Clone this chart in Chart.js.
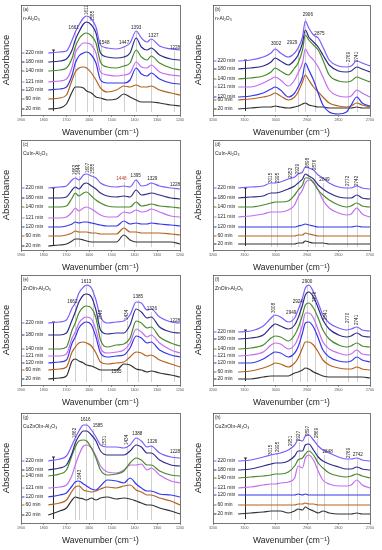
<!DOCTYPE html>
<html>
<head>
<meta charset="utf-8">
<script src="https://cdn.jsdelivr.net/npm/chart.js@4.4.0/dist/chart.umd.min.js"></script>
<style>
  body { margin: 0; background: #fff; width: 382px; height: 550px; position: relative; overflow: hidden; }
  canvas { position: absolute; }
</style>
</head>
<body>
<canvas id="pa"></canvas><canvas id="pb"></canvas>
<canvas id="pc"></canvas><canvas id="pd"></canvas>
<canvas id="pe"></canvas><canvas id="pf"></canvas>
<canvas id="pg"></canvas><canvas id="ph"></canvas>
<script>
// time labels and colours, top curve first
const timeLabels = ["220 min", "180 min", "140 min", "121 min", "120 min", "60 min", "20 min"];
const lineColors = ["#7c5cff", "#2d2d8c", "#4a8a2c", "#c46cf2", "#3636ee", "#b5621e", "#333333"];

// wavenumber grids (cm-1)
const lowWaves = [1780, 1730, 1700, 1675, 1661, 1645, 1625, 1611, 1590, 1570, 1550, 1520, 1480, 1447, 1420, 1393, 1370, 1345, 1327, 1290, 1240, 1200];
const highWaves = [3120, 3080, 3040, 3015, 3002, 2985, 2960, 2940, 2929, 2915, 2906, 2895, 2880, 2865, 2850, 2830, 2800, 2775, 2760, 2742, 2725, 2700];

// (a) n-Al2O3, 1900-1200
const aSpectra = [
  [62, 63, 64, 75, 83, 90, 97, 99, 96, 88, 70, 67, 66, 68, 72, 84, 77, 73, 76, 69, 66, 65],
  [53, 54, 56, 65, 75, 83, 91, 93, 90, 82, 62, 58, 57, 58, 62, 77, 68, 65, 67, 60, 56, 55],
  [44, 45, 47, 57, 68, 76, 81, 82, 79, 72, 53, 48, 47, 49, 52, 65, 58, 55, 59, 52, 47, 45],
  [33, 34, 36, 48, 62, 68, 72, 72, 70, 62, 43, 40, 39, 40, 42, 53, 48, 47, 50, 43, 40, 39],
  [25, 26, 28, 40, 52, 59, 62, 63, 60, 52, 35, 32, 32, 32, 35, 47, 41, 39, 42, 36, 32, 31],
  [16, 17, 20, 35, 43, 47, 48, 47, 42, 35, 27, 23, 25, 29, 28, 30, 28, 28, 29, 25, 22, 20],
  [6, 7, 11, 23, 28, 28, 27, 24, 22, 18, 17, 15, 16, 21, 18, 15, 13, 13, 13, 12, 10, 9],
];
const aPeaks = [1661, 1611, 1585, 1548, 1447, 1393, 1327, 1228];

// (b) n-Al2O3, 3200-2700
const bSpectra = [
  [54, 55, 58, 62, 66, 62, 58, 62, 67, 78, 94, 87, 80, 77, 68, 55, 49, 48, 49, 54, 52, 49],
  [46, 47, 49, 53, 57, 54, 50, 55, 60, 72, 85, 78, 73, 68, 60, 50, 44, 43, 44, 48, 46, 43],
  [36, 37, 39, 43, 47, 44, 40, 47, 52, 65, 80, 75, 70, 65, 55, 40, 34, 33, 34, 38, 36, 33],
  [28, 28, 32, 36, 38, 35, 29, 35, 42, 52, 66, 60, 55, 48, 38, 25, 19, 18, 19, 25, 22, 18],
  [18, 19, 22, 26, 28, 25, 18, 22, 28, 38, 52, 45, 35, 22, 10, 3, 1, 3, 10, 18, 12, 9],
  [15, 16, 18, 20, 22, 19, 15, 18, 23, 33, 40, 35, 28, 23, 18, 12, 9, 8, 9, 12, 10, 8],
  [6, 7, 8, 8, 9, 8, 7, 8, 9, 11, 12, 10, 9, 8, 8, 7, 7, 7, 7, 8, 7, 7],
];
const bPeaks = [3002, 2929, 2906, 2875, 2769, 2741];

// (c) CuIn-Al2O3, 1900-1200
const cSpectra = [
  [62, 63, 64, 70, 72, 70, 75, 76, 74, 72, 67, 64, 63, 64, 63, 70, 64, 65, 67, 64, 62, 61],
  [52, 52, 53, 60, 63, 61, 66, 67, 64, 61, 57, 54, 53, 54, 53, 60, 55, 56, 57, 55, 52, 51],
  [43, 43, 44, 52, 57, 54, 57, 58, 54, 50, 47, 44, 43, 43, 43, 48, 44, 45, 46, 44, 43, 42],
  [32, 32, 33, 38, 42, 39, 42, 43, 41, 38, 35, 33, 33, 38, 37, 40, 38, 39, 41, 38, 34, 33],
  [23, 23, 24, 26, 28, 27, 28, 28, 27, 26, 25, 24, 24, 29, 26, 27, 26, 26, 27, 26, 25, 24],
  [14, 14, 15, 17, 19, 18, 18, 18, 17, 17, 16, 16, 16, 22, 18, 18, 17, 17, 17, 17, 16, 15],
  [4, 5, 6, 9, 11, 11, 10, 9, 8, 8, 8, 8, 8, 15, 10, 8, 8, 8, 8, 8, 8, 6],
];
const cPeaks = [1662, 1644, 1607, 1585, 1448, 1395, 1329, 1228];

// (d) CuIn-Al2O3, 3200-2700
const dSpectra = [
  [62, 63, 64, 67, 67, 68, 71, 73, 76, 78, 83, 82, 80, 75, 72, 67, 63, 62, 62, 64, 62, 61],
  [52, 53, 54, 57, 57, 58, 61, 64, 67, 71, 76, 74, 71, 65, 61, 57, 53, 52, 52, 55, 52, 51],
  [43, 43, 45, 47, 48, 48, 49, 55, 60, 65, 72, 72, 67, 60, 55, 50, 45, 43, 44, 47, 44, 43],
  [33, 34, 36, 38, 38, 38, 40, 45, 53, 60, 67, 70, 68, 60, 50, 42, 37, 35, 36, 42, 36, 33],
  [23, 23, 23, 23, 23, 23, 23, 23, 24, 25, 26, 25, 24, 23, 23, 23, 23, 23, 23, 24, 23, 23],
  [14, 14, 14, 14, 14, 14, 14, 14, 15, 15, 17, 16, 15, 14, 14, 14, 14, 14, 14, 14, 14, 14],
  [6, 6, 6, 6, 6, 6, 6, 6, 7, 7, 9, 8, 7, 7, 7, 6, 6, 6, 6, 6, 6, 6],
];
const dPeaks = [3015, 2995, 2952, 2929, 2898, 2876, 2849, 2772, 2742];

// (e) ZnOIn-Al2O3, 1900-1200
const eSpectra = [
  [62, 63, 65, 77, 82, 92, 98, 100, 97, 85, 68, 62, 63, 64, 70, 83, 82, 75, 76, 68, 63, 62],
  [50, 50, 52, 65, 73, 83, 90, 91, 88, 75, 55, 51, 52, 52, 60, 76, 73, 67, 68, 58, 53, 52],
  [36, 36, 38, 55, 62, 72, 78, 79, 77, 67, 45, 38, 40, 41, 47, 64, 62, 57, 58, 48, 42, 39],
  [29, 29, 31, 47, 53, 62, 67, 68, 66, 55, 37, 32, 33, 35, 42, 56, 53, 48, 50, 42, 35, 32],
  [22, 23, 25, 42, 48, 57, 62, 63, 60, 48, 32, 28, 29, 30, 37, 49, 47, 42, 43, 35, 30, 28],
  [15, 16, 18, 33, 38, 42, 43, 42, 39, 32, 23, 21, 22, 23, 28, 33, 32, 29, 30, 25, 21, 18],
  [6, 7, 9, 24, 26, 24, 22, 20, 19, 17, 15, 15, 15, 21, 20, 16, 15, 13, 14, 12, 10, 8],
];
const ePeaks = [1662, 1613, 1548, 1434, 1385, 1326, 1228, 1585];

// (f) ZnOIn-Al2O3, 3200-2700
const fSpectra = [
  [53, 54, 59, 67, 70, 68, 63, 67, 75, 87, 97, 100, 93, 82, 70, 62, 57, 55, 56, 58, 55, 54],
  [46, 47, 50, 58, 61, 59, 56, 60, 67, 80, 90, 93, 88, 77, 65, 56, 50, 48, 49, 52, 49, 48],
  [36, 37, 40, 47, 49, 48, 44, 50, 57, 70, 80, 82, 77, 67, 55, 46, 40, 38, 39, 42, 39, 38],
  [29, 30, 33, 40, 42, 41, 36, 40, 47, 60, 72, 72, 67, 55, 43, 36, 32, 30, 31, 35, 31, 30],
  [22, 22, 26, 31, 33, 32, 28, 32, 38, 52, 62, 63, 58, 47, 35, 28, 24, 23, 24, 28, 25, 23],
  [13, 14, 17, 20, 22, 21, 18, 22, 27, 37, 43, 43, 40, 33, 25, 20, 17, 16, 16, 18, 16, 15],
  [6, 6, 8, 9, 9, 9, 9, 12, 13, 15, 17, 16, 13, 11, 9, 8, 8, 8, 8, 8, 8, 7],
];
const fPeaks = [3008, 2949, 2924, 2900, 2876, 2841, 2770, 2741];

// (g) CuZnOIn-Al2O3, 1900-1200
const gSpectra = [
  [62, 64, 67, 78, 85, 92, 98, 98, 93, 86, 78, 76, 76, 75, 78, 85, 82, 76, 77, 70, 66, 65],
  [53, 55, 58, 70, 80, 87, 92, 92, 88, 82, 72, 68, 68, 68, 72, 78, 76, 70, 70, 63, 58, 57],
  [47, 49, 53, 68, 76, 82, 83, 82, 75, 65, 53, 48, 49, 52, 60, 65, 63, 58, 58, 52, 48, 47],
  [35, 36, 38, 48, 58, 68, 77, 78, 75, 67, 57, 51, 50, 53, 58, 58, 59, 53, 55, 48, 42, 40],
  [26, 28, 30, 37, 41, 42, 39, 37, 34, 33, 37, 43, 42, 40, 45, 39, 35, 32, 32, 29, 28, 26],
  [18, 20, 23, 32, 36, 37, 33, 32, 31, 32, 34, 36, 35, 37, 38, 33, 31, 28, 28, 25, 22, 18],
  [8, 12, 15, 23, 26, 25, 24, 23, 25, 23, 25, 26, 24, 25, 24, 22, 20, 18, 18, 15, 12, 9],
];
const gPeaks = [1662, 1616, 1585, 1531, 1434, 1388, 1326, 1228, 1643];

// (h) CuZnOIn-Al2O3, 3200-2700
const hSpectra = [
  [62, 63, 66, 68, 69, 70, 73, 78, 83, 82, 87, 88, 83, 77, 73, 70, 66, 64, 64, 65, 63, 62],
  [53, 54, 57, 59, 60, 60, 62, 67, 72, 72, 78, 79, 73, 66, 62, 59, 56, 54, 54, 56, 54, 53],
  [45, 46, 47, 48, 49, 49, 51, 57, 63, 65, 69, 72, 68, 60, 55, 50, 47, 46, 47, 49, 47, 45],
  [35, 36, 38, 39, 39, 40, 41, 45, 57, 55, 65, 68, 63, 52, 43, 39, 37, 37, 38, 43, 38, 35],
  [28, 28, 28, 28, 28, 28, 28, 28, 29, 28, 29, 28, 28, 28, 28, 28, 28, 28, 28, 28, 28, 28],
  [18, 18, 18, 18, 18, 18, 18, 18, 19, 19, 20, 19, 19, 18, 18, 18, 18, 18, 18, 18, 18, 18],
  [9, 10, 11, 12, 12, 12, 10, 12, 14, 13, 16, 14, 12, 10, 12, 10, 9, 9, 9, 10, 9, 9],
];
const hPeaks = [3015, 2995, 2951, 2927, 2897, 2869, 2848, 2769, 2742];

const FONT = "'Liberation Sans', Arial, 'DejaVu Sans', sans-serif";

// where each peak label sits: [wavenumber, height, rotated]
const panels = [
  { id: "pa", letter: "(a)", name: "n-Al₂O₃", waves: lowWaves, spectra: aSpectra, peaks: aPeaks,
    labelPos: [[1668, 87, 0], [1611, 100, 1], [1585, 94, 1], [1533, 72, 0], [1446, 72, 0], [1393, 87, 0], [1317, 79, 0], [1222, 67, 0]],
    bar: [1757, 65], left: 0, top: 0, min: 1200, max: 1900 },
  { id: "pb", letter: "(b)", name: "n-Al₂O₃", waves: highWaves, spectra: bSpectra, peaks: bPeaks,
    labelPos: [[2999, 71, 0], [2948, 72, 0], [2898, 100, 0], [2861, 81, 0], [2769, 53, 1], [2741, 53, 1]],
    bar: [3097, 55], left: 191, top: 0, min: 2700, max: 3200 },
  { id: "pc", letter: "(c)", name: "CuIn-Al₂O₃", waves: lowWaves, spectra: cSpectra, peaks: cPeaks,
    labelPos: [[1662, 75, 1], [1644, 75, 1], [1607, 77, 1], [1585, 76, 1], [1458, 71, 0], [1395, 74, 0], [1322, 71, 0], [1222, 65, 0]],
    bar: [1757, 62], left: 0, top: 135, min: 1200, max: 1900, redLabel: 1448 },
  { id: "pd", letter: "(d)", name: "CuIn-Al₂O₃", waves: highWaves, spectra: dSpectra, peaks: dPeaks,
    labelPos: [[3015, 67, 1], [2995, 67, 1], [2952, 72, 1], [2929, 76, 1], [2898, 82, 1], [2876, 80, 1], [2845, 70, 0], [2772, 64, 1], [2742, 64, 1]],
    bar: [3097, 62], left: 191, top: 135, min: 2700, max: 3200 },
  { id: "pe", letter: "(e)", name: "ZnOIn-Al₂O₃", waves: lowWaves, spectra: eSpectra, peaks: ePeaks,
    labelPos: [[1674, 83, 0], [1613, 103, 0], [1548, 65, 1], [1434, 65, 1], [1385, 88, 0], [1324, 76, 0], [1222, 64, 0], [1480, 13, 0]],
    bar: [1760, 63], left: 0, top: 270, min: 1200, max: 1900 },
  { id: "pf", letter: "(f)", name: "ZnOIn-Al₂O₃", waves: highWaves, spectra: fSpectra, peaks: fPeaks,
    labelPos: [[3008, 72, 1], [2951, 72, 0], [2930, 83, 0], [2900, 103, 0], [2876, 83, 1], [2841, 65, 1], [2770, 62, 1], [2741, 60, 1]],
    bar: [3097, 55], left: 191, top: 270, min: 2700, max: 3200 },
  { id: "pg", letter: "(g)", name: "CuZnOIn-Al₂O₃", waves: lowWaves, spectra: gSpectra, peaks: gPeaks,
    labelPos: [[1662, 85, 1], [1616, 103, 0], [1562, 97, 0], [1531, 77, 1], [1434, 78, 1], [1388, 89, 0], [1322, 81, 0], [1222, 71, 0], [1643, 43, 1]],
    bar: [1757, 66], left: 0, top: 408, min: 1200, max: 1900 },
  { id: "ph", letter: "(h)", name: "CuZnOIn-Al₂O₃", waves: highWaves, spectra: hSpectra, peaks: hPeaks,
    labelPos: [[3015, 68, 1], [2995, 71, 1], [2951, 77, 1], [2927, 82, 1], [2897, 87, 1], [2869, 85, 1], [2835, 71, 0], [2769, 65, 1], [2739, 68, 0]],
    bar: [3097, 65], left: 191, top: 408, min: 2700, max: 3200 },
];

function decor(p) {
  return {
    id: "decor",
    beforeDatasetsDraw(chart) {
      const { ctx, scales: { x, y } } = chart;
      ctx.save();
      // thin grey guide lines at the peaks
      ctx.strokeStyle = "rgba(110,110,110,0.55)";
      ctx.lineWidth = 0.6;
      p.peaks.forEach((w, i) => {
        const [, tv, rot] = p.labelPos[i];
        const px = Math.round(x.getPixelForValue(w)) + 0.5;
        let y1, y2;
        if (tv < 20) { y1 = y.getPixelForValue(95); y2 = y.getPixelForValue(tv + 4); }
        else { y1 = y.getPixelForValue(tv - (rot ? 1 : 3)); y2 = y.getPixelForValue(3); }
        ctx.beginPath(); ctx.moveTo(px, y1); ctx.lineTo(px, y2); ctx.stroke();
      });
      // absorbance scale bar
      ctx.strokeStyle = "#111";
      ctx.lineWidth = 0.9;
      const bx = Math.round(x.getPixelForValue(p.bar[0])) + 0.5;
      ctx.beginPath();
      ctx.moveTo(bx, y.getPixelForValue(4));
      ctx.lineTo(bx, y.getPixelForValue(p.bar[1]));
      ctx.moveTo(bx - 1.5, y.getPixelForValue(p.bar[1]));
      ctx.lineTo(bx + 1.5, y.getPixelForValue(p.bar[1]));
      ctx.stroke();
      ctx.restore();
    },
    afterDraw(chart) {
      const { ctx, chartArea: a, scales: { x, y } } = chart;
      ctx.save();
      // frame
      ctx.strokeStyle = "#555";
      ctx.lineWidth = 0.8;
      ctx.strokeRect(a.left + 0.5, a.top + 0.5, a.right - a.left, a.bottom - a.top);
      // panel letter and sample name
      ctx.fillStyle = "#222";
      ctx.textAlign = "left";
      ctx.textBaseline = "middle";
      ctx.font = "4.5px " + FONT;
      ctx.fillText(p.letter, a.left + 2, a.top + 5);
      ctx.font = "5px " + FONT;
      ctx.fillText(p.name, a.left + 2, a.top + 14);
      // time labels with colour dashes
      p.spectra.forEach((s, i) => {
        const ly = y.getPixelForValue(s[0]);
        ctx.strokeStyle = lineColors[i];
        ctx.lineWidth = 1;
        ctx.beginPath(); ctx.moveTo(a.left + 1, ly); ctx.lineTo(a.left + 3.5, ly); ctx.stroke();
        ctx.fillStyle = "#222";
        ctx.font = "5px " + FONT;
        ctx.fillText(timeLabels[i], a.left + 4.5, ly);
      });
      // peak labels
      ctx.font = "4.6px " + FONT;
      p.peaks.forEach((w, i) => {
        const [tw, tv, rot] = p.labelPos[i];
        ctx.fillStyle = p.redLabel === w ? "#c0392b" : "#222";
        const px = x.getPixelForValue(tw), py = y.getPixelForValue(tv);
        if (rot) {
          ctx.save();
          ctx.translate(px, py);
          ctx.rotate(-Math.PI / 2);
          ctx.textAlign = "left";
          ctx.textBaseline = "middle";
          ctx.fillText(String(w), 0, 0);
          ctx.restore();
        } else {
          ctx.textAlign = "center";
          ctx.textBaseline = "middle";
          ctx.fillText(String(w), px, py);
        }
      });
      ctx.restore();
    },
  };
}

function makePanel(p) {
  const cv = document.getElementById(p.id);
  cv.width = 191;
  cv.height = 139;
  cv.style.left = p.left + "px";
  cv.style.top = p.top + "px";
  const rightSide = p.left > 0;
  new Chart(cv, {
    type: "line",
    data: {
      datasets: p.spectra.map((s, i) => ({
        label: timeLabels[i],
        data: p.waves.map((w, j) => ({ x: w, y: s[j] })),
        borderColor: lineColors[i],
        borderWidth: 1.2,
        pointRadius: 0,
        cubicInterpolationMode: "monotone",
        fill: false,
      })),
    },
    options: {
      responsive: false,
      animation: false,
      layout: { padding: { top: 5, right: rightSide ? 12 : 11, left: rightSide ? 1 : 0, bottom: 0 } },
      plugins: { legend: { display: false }, tooltip: { enabled: false } },
      scales: {
        x: {
          type: "linear",
          reverse: true,
          min: p.min,
          max: p.max,
          afterFit: (s) => { s.height = 24; },
          ticks: {
            stepSize: 100,
            callback: (v) => String(v),
            font: { size: 3.6, family: FONT },
            color: "#555",
            padding: 1,
            maxRotation: 0,
            autoSkip: false,
          },
          grid: { drawOnChartArea: false, tickLength: 2, color: "#555", lineWidth: 0.6 },
          border: { display: false },
          title: { display: true, text: "Wavenumber (cm⁻¹)", font: { size: 8.5, family: FONT }, color: "#222", padding: { top: 0, bottom: 1 } },
        },
        y: {
          min: 0,
          max: 110,
          afterFit: (s) => { s.width = 21; },
          ticks: { display: false },
          grid: { display: false },
          border: { display: false },
          title: { display: true, text: "Absorbance", font: { size: 9.5, family: FONT }, color: "#222", padding: { top: 1, bottom: 0 } },
        },
      },
    },
    plugins: [decor(p)],
  });
}

panels.forEach(makePanel);
</script>
</body>
</html>
